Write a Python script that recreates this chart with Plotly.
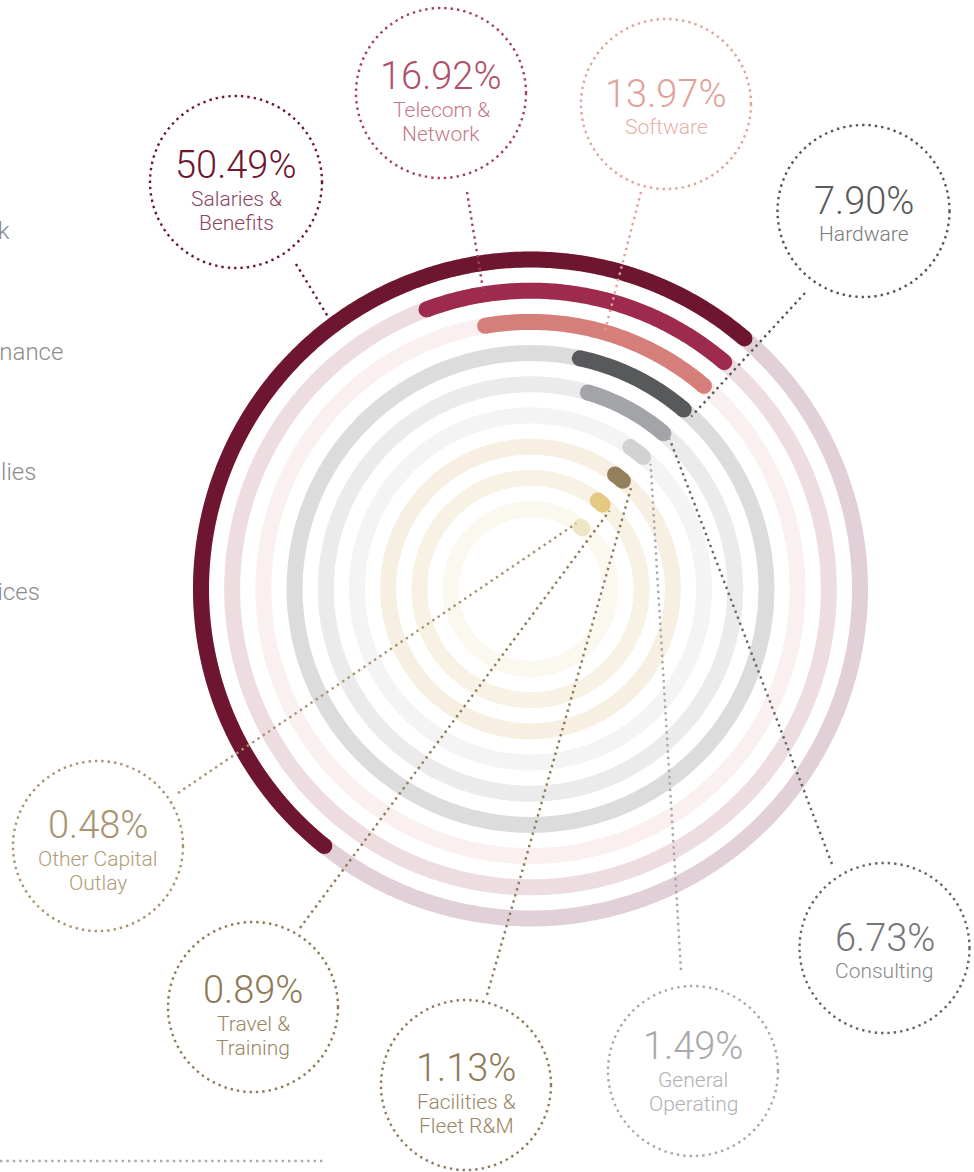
import numpy as np
import plotly.graph_objects as go

# ---------------- data ----------------
categories = ["Salaries & Benefits", "Telecom & Network", "Software", "Hardware",
              "Consulting", "General Operating", "Facilities & Fleet R&M",
              "Travel & Training", "Other Capital Outlay"]
percent = [50.49, 16.92, 13.97, 7.90, 6.73, 1.49, 1.13, 0.89, 0.48]
label_lines = [["Salaries &", "Benefits"], ["Telecom &", "Network"], ["Software"],
               ["Hardware"], ["Consulting"], ["General", "Operating"],
               ["Facilities &", "Fleet R&M"], ["Travel &", "Training"],
               ["Other Capital", "Outlay"]]
side_labels = ["Network", "Maintenance", "Supplies", "Services"]

# ---------------- styles ----------------
arc_colors = ["#6e1530", "#9e2a4e", "#d67e79", "#58595b", "#a3a4a8",
              "#d1d2d4", "#937f5c", "#e5c981", "#efe7c3"]
track_colors = ["#e1d0d7", "#eddde1", "#faf0f0", "#dcdcdc", "#ebebeb",
                "#f3f4f3", "#f6efe2", "#f8f2e4", "#fbf8f0"]
pct_colors = ["#6e1530", "#b04f67", "#e2a096", "#5a5a5a", "#767676",
              "#a9a9ab", "#8e7a57", "#8e7a57", "#a89470"]
text_colors = ["#8b4560", "#c4798a", "#e8b0a8", "#7a7a7a", "#8a8a8a",
               "#b0b0b2", "#9a8665", "#9a8665", "#b09c78"]
circle_colors = ["#6e1530", "#a7405c", "#e3a299", "#555555", "#666666",
                 "#a9a9ab", "#8e7a57", "#8e7a57", "#a8936f"]

W, H = 974, 1172
CX, CY = 530.5, 589.0
RMAX = 350.0
R_OUTER, STEP, LW = 329.5, 31.2, 16
END_ANGLE = 40.5

# label circles: centre x, centre y, radius (pixels)
label_circles = [(236, 182, 86), (441, 93, 85), (666, 104, 85), (863.5, 211, 86),
                 (884.5, 948, 85), (693, 1071, 85), (466, 1085, 85), (253, 1007, 85),
                 (98, 846, 85)]
# vertical shift of the text block inside each circle (px)
text_shift = [0, 0, 0, 0, 0, -8, 0, 0, -4]
# leader: angle on ring (deg, clockwise from top), circle-side anchor point (px)
leader_angle = [-36.8, -9.0, 16.1, 43.0, 42.8, 43.8, 44.9, 45.3, 34.9]
leader_anchor = [(296, 264), (467, 192), (641, 192), (805, 293), (832, 864),
                 (681, 970), (487, 995), (300, 928), (178, 793)]
side_pos = [(12, 231), (65, 352), (38, 472), (42, 592)]

FONT = "Roboto"

fig = go.Figure()

radii = [R_OUTER - i * STEP for i in range(len(categories))]

# background tracks
for i, r in enumerate(radii):
    th = np.linspace(0, 360, 721)
    fig.add_trace(go.Scatterpolar(r=np.full(th.size, r), theta=th, mode="lines",
                                  line=dict(color=track_colors[i], width=LW),
                                  hoverinfo="skip", showlegend=False))

# value arcs with round caps
for i, (r, p) in enumerate(zip(radii, percent)):
    span = p / 100.0 * 360.0
    start = END_ANGLE - span
    n = max(int(span * 2), 2)
    th = np.linspace(start, END_ANGLE, n)
    fig.add_trace(go.Scatterpolar(r=np.full(th.size, r), theta=th, mode="lines",
                                  line=dict(color=arc_colors[i], width=LW),
                                  hoverinfo="skip", showlegend=False))
    fig.add_trace(go.Scatterpolar(r=[r, r], theta=[start, END_ANGLE], mode="markers",
                                  marker=dict(color=arc_colors[i], size=LW, line=dict(width=0)),
                                  hoverinfo="skip", showlegend=False))

# invisible cartesian trace to establish overlay axes
fig.add_trace(go.Scatter(x=[0, W], y=[0, H], mode="markers", marker=dict(opacity=0),
                         hoverinfo="skip", showlegend=False))

shapes = []
annotations = []
DOT = "2.4px,4px"
for i in range(len(categories)):
    cx, cy, rc = label_circles[i]
    col = circle_colors[i]
    shapes.append(dict(type="circle", xref="x", yref="y", x0=cx - rc, x1=cx + rc,
                       y0=cy - rc, y1=cy + rc, layer="above",
                       line=dict(color=col, width=2.4, dash=DOT)))
    a = np.deg2rad(leader_angle[i])
    px = CX + radii[i] * np.sin(a)
    py = CY - radii[i] * np.cos(a)
    ax, ay = leader_anchor[i]
    shapes.append(dict(type="line", xref="x", yref="y", x0=ax, y0=ay, x1=px, y1=py,
                       layer="above", line=dict(color=col, width=2.4, dash=DOT)))
    lines = label_lines[i]
    if len(lines) == 2:
        offs = (-17, 17, 41)
    else:
        offs = (-10, 23)
    ty = cy + text_shift[i]
    annotations.append(dict(x=cx, y=ty + offs[0], xref="x", yref="y", showarrow=False,
                            text=f"{percent[i]:.2f}%", xanchor="center", yanchor="middle",
                            font=dict(family=FONT, size=38, color=pct_colors[i], weight=300)))
    for k, t in enumerate(lines):
        annotations.append(dict(x=cx, y=ty + offs[k + 1], xref="x", yref="y", showarrow=False,
                                text=t, xanchor="center", yanchor="middle",
                                font=dict(family=FONT, size=21, color=text_colors[i], weight=300)))

for t, (x, y) in zip(side_labels, side_pos):
    annotations.append(dict(x=x, y=y, xref="x", yref="y", showarrow=False, text=t,
                            xanchor="right", yanchor="middle",
                            font=dict(family=FONT, size=24, color="#8c8c8c", weight=300)))

shapes.append(dict(type="line", xref="x", yref="y", x0=0, x1=325, y0=1161, y1=1161,
                   layer="above", line=dict(color="#aaaaaa", width=2.4, dash=DOT)))

fig.update_layout(
    width=W, height=H, margin=dict(l=0, r=0, t=0, b=0, pad=0),
    paper_bgcolor="white", plot_bgcolor="rgba(0,0,0,0)",
    showlegend=False,
    xaxis=dict(range=[0, W], visible=False, fixedrange=True, domain=[0, 1]),
    yaxis=dict(range=[H, 0], visible=False, fixedrange=True, domain=[0, 1]),
    polar=dict(
        domain=dict(x=[(CX - RMAX) / W, (CX + RMAX) / W],
                    y=[1 - (CY + RMAX) / H, 1 - (CY - RMAX) / H]),
        bgcolor="rgba(0,0,0,0)",
        radialaxis=dict(range=[0, RMAX], visible=False, showgrid=False),
        angularaxis=dict(rotation=90, direction="clockwise", visible=False,
                         showgrid=False, showline=False),
    ),
    shapes=shapes, annotations=annotations,
)

fig.write_html("out.html", config={"displayModeBar": False},
               post_script="document.body.style.margin='0';document.body.style.padding='0';"
                           "document.body.style.overflow='hidden';")
